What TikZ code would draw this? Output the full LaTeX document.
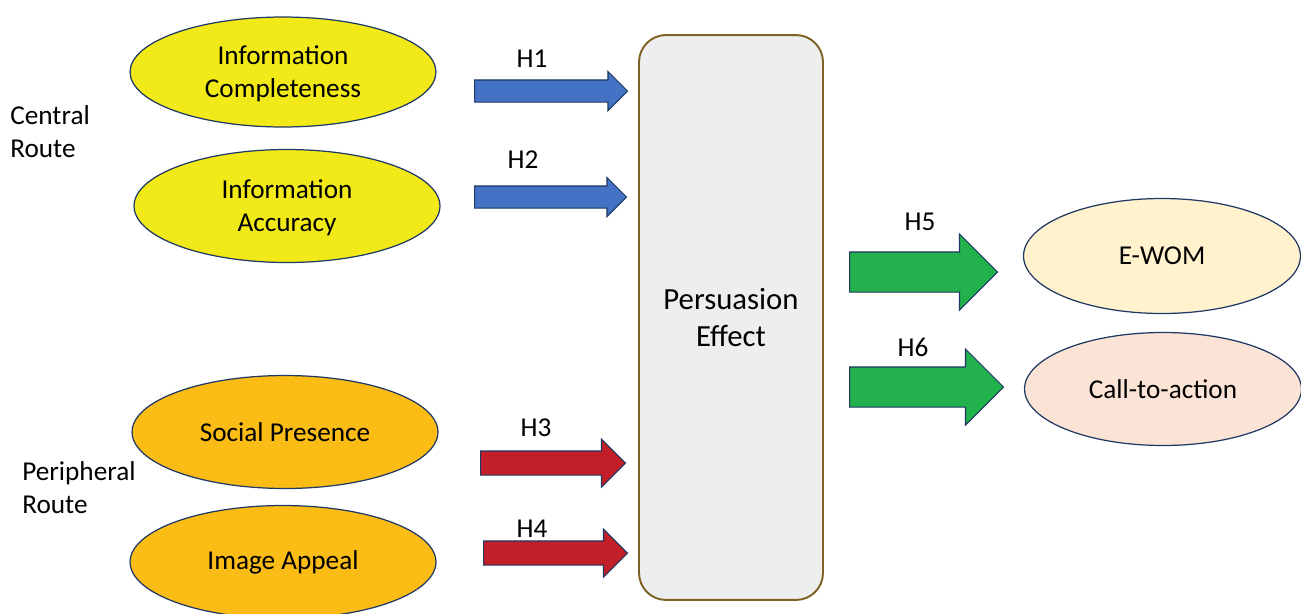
\documentclass[tikz,border=0pt]{standalone}
\usepackage{fontspec}
\setmainfont{Carlito}
\usetikzlibrary{shapes.geometric,shapes.arrows}
\definecolor{navy}{HTML}{1F3864}
\definecolor{centralfill}{HTML}{F1EA18}
\definecolor{periphfill}{HTML}{FBBC15}
\definecolor{ewomfill}{HTML}{FFF2CC}
\definecolor{ctafill}{HTML}{FBE4D5}
\definecolor{boxfill}{HTML}{EDEFEF}
\definecolor{boxline}{HTML}{7F6025}
\definecolor{bluebar}{HTML}{4472C4}
\definecolor{redbar}{HTML}{C21F28}
\definecolor{greenbar}{HTML}{22B14C}
\begin{document}
\begin{tikzpicture}[x=0.02cm, y=-0.02cm, font=\fontsize{15.5}{18.7}\selectfont,
    factor/.style={ellipse, draw=navy, line width=0.7pt, minimum width=6.12cm, minimum height=2.26cm, align=center, inner sep=0pt},
    harrow/.style={single arrow, draw=navy, line width=0.6pt, anchor=tail, inner xsep=0pt, minimum width=0pt}]
    \useasboundingbox (0,0) rectangle (1301,613);
    \clip (0,0) rectangle (1301,613);
% antecedents
    \node[factor, fill=centralfill, minimum height=2.2cm, text depth=0pt] (ic) at (283,72) {Information\\Completeness};
    \node[factor, fill=centralfill, text depth=0pt] (ia) at (287,206) {Information\\Accuracy};
    \node[factor, fill=periphfill] (sp) at (285,432) {Social Presence};
    \node[factor, fill=periphfill] (ap) at (283,562) {Image Appeal};
    \node[anchor=west, align=left, inner sep=0pt] (central) at (10,132) {Central\\Route};
    \node[anchor=west, align=left, inner sep=0pt] (periph) at (22,488) {Peripheral\\Route};
% mediator
    \node[draw=boxline, line width=1.1pt, fill=boxfill, rounded corners=0.54cm,
        minimum width=3.68cm, minimum height=11.3cm, align=center,
        font=\fontsize{17.5}{21}\selectfont] (pe) at (731,317.5) {Persuasion\\Effect};
% outcomes
    \node[factor, fill=ewomfill, minimum width=5.54cm, minimum height=2.3cm] (ewom) at (1162,256) {E-WOM};
    \node[factor, fill=ctafill, minimum width=5.54cm] (cta) at (1163,389) {Call-to-action};
% hypotheses
\foreach \n/\x/\y/\len/\col/\sw/\hd in {1/474/91/3.06cm/bluebar/0.21cm/0.17cm,
    2/474/197/3.04cm/bluebar/0.21cm/0.17cm,
    3/480/463/2.9cm/redbar/0.23cm/0.24cm,
    4/483/553/2.88cm/redbar/0.23cm/0.24cm,
    5/849/272/2.96cm/greenbar/0.39cm/0.36cm,
    6/849/387/3.08cm/greenbar/0.39cm/0.36cm}
{
    \node[harrow, fill=\col, minimum height=\len, inner ysep=\sw, single arrow head extend=\hd] (arr\n) at (\x,\y) {};
}
\foreach \n/\x/\y in {1/532/59, 2/523/160, 3/536/428, 4/532/529, 5/920/222, 6/913/347}
{
    \node (lab\n) at (\x,\y) {H\n};
}
\end{tikzpicture}
\end{document}
